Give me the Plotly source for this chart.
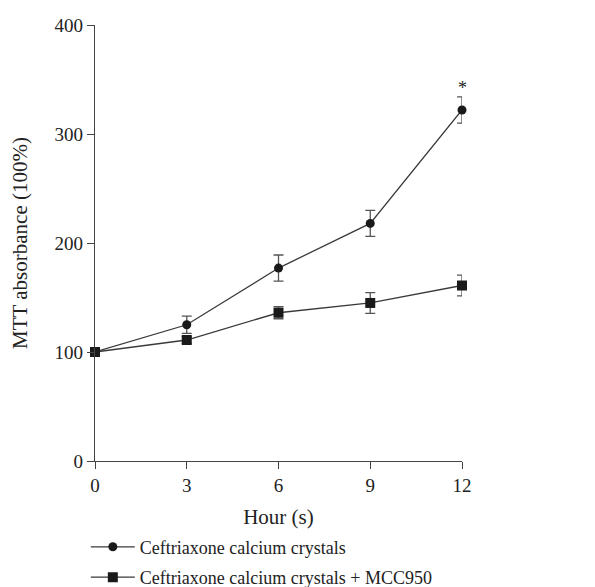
import plotly.graph_objects as go

hours = [0, 3, 6, 9, 12]
tick_labels = ["0", "3", "6", "9", "12"]
y_ticks = [0, 100, 200, 300, 400]

crystals = [100, 125, 177, 218, 322]
crystals_err = [0, 8, 12, 12, 12]
mcc950 = [100, 111, 136, 145, 161]
mcc950_err = [0, 3, 5.5, 9.5, 9.5]

name1 = "Ceftriaxone calcium crystals"
name2 = "Ceftriaxone calcium crystals + MCC950"

FONT = "Liberation Serif"
ink = "#1a1a1a"
lc = "#3a3a3a"
txt = "#222222"

fig = go.Figure()
fig.add_trace(go.Scatter(
    x=hours, y=crystals, name=name1, mode="lines+markers", legendgroup="a",
    line=dict(color=lc, width=1.3),
    marker=dict(symbol="circle", size=9, color=ink),
    error_y=dict(type="data", array=crystals_err, visible=True,
                 color="#555555", thickness=1.3, width=5),
    cliponaxis=False,
))
fig.add_trace(go.Scatter(
    x=hours, y=mcc950, name=name2, mode="lines+markers", legendgroup="b",
    line=dict(color=lc, width=1.3),
    marker=dict(symbol="square", size=10, color=ink),
    error_y=dict(type="data", array=mcc950_err, visible=True,
                 color="#555555", thickness=1.3, width=5),
    cliponaxis=False,
))

fig.add_annotation(x=12, y=crystals[-1] + crystals_err[-1], text="*",
                   showarrow=False, yanchor="bottom", yshift=-3,
                   font=dict(family=FONT, size=18, color=ink))

# page body has an 8px default margin; figure sized/positioned to compensate
fig.update_layout(
    width=587, height=579,
    margin=dict(l=87, r=133, t=17, b=126, autoexpand=False),
    paper_bgcolor="white", plot_bgcolor="white",
    font=dict(family=FONT, size=18, color=txt),
    showlegend=True,
    legend=dict(x=-0.025, y=-0.155, xanchor="left", yanchor="top",
                font=dict(family=FONT, size=18, color=txt),
                traceorder="grouped", tracegroupgap=4,
                itemwidth=44, bgcolor="rgba(0,0,0,0)"),
    xaxis=dict(range=[0, 12], tickvals=hours, ticktext=tick_labels,
               showgrid=False, zeroline=False, showline=True,
               linecolor="#444444", linewidth=1.3,
               ticks="outside", ticklen=7, tickwidth=1.3, tickcolor="#444444",
               title=dict(text="Hour (s)", standoff=14,
                          font=dict(family=FONT, size=21, color=txt)),
               tickfont=dict(family=FONT, size=19, color=txt)),
    yaxis=dict(range=[0, 400], tickvals=y_ticks,
               showgrid=False, zeroline=False, showline=True,
               linecolor="#444444", linewidth=1.3,
               ticks="outside", ticklen=7, tickwidth=1.3, tickcolor="#444444",
               title=dict(text="MTT absorbance (100%)", standoff=24,
                          font=dict(family=FONT, size=21, color=txt)),
               tickfont=dict(family=FONT, size=19, color=txt)),
)

fig.write_html("out.html")
